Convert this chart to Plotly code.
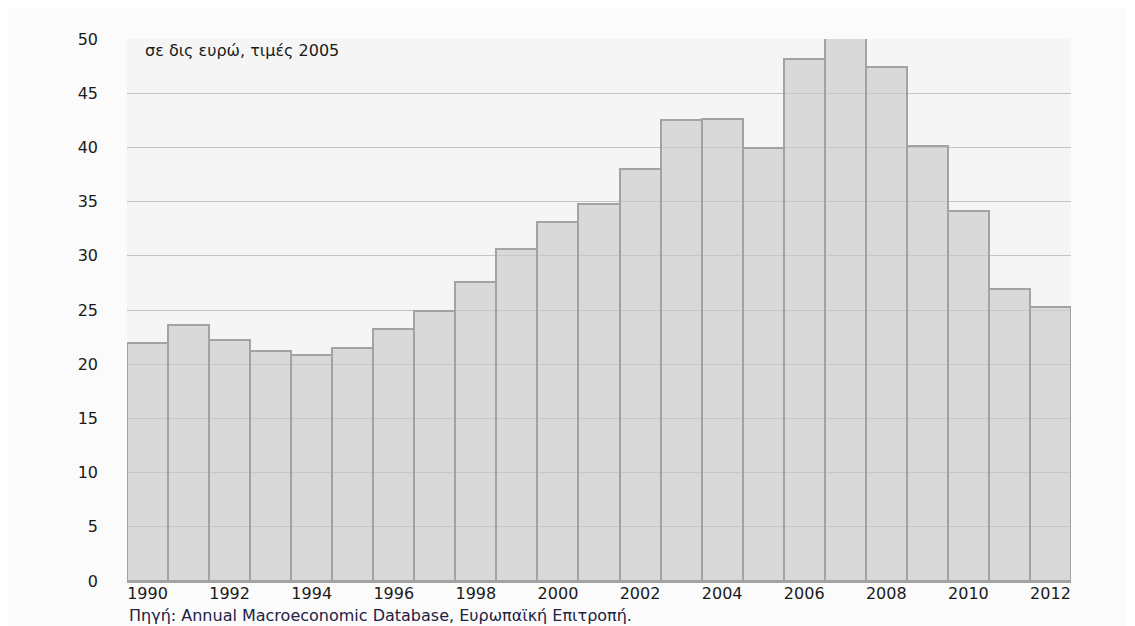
import plotly.graph_objects as go

years = list(range(1990, 2013))
values = [22.0, 23.6, 22.2, 21.2, 20.85, 21.5, 23.25, 24.9, 27.6, 30.6, 33.1, 34.8,
          38.0, 42.5, 42.6, 39.9, 48.2, 50.5, 47.4, 40.1, 34.1, 26.9, 25.3]
y_ticks = list(range(0, 51, 5))
x_ticks = list(range(1990, 2013, 2))
unit_note = "σε δις ευρώ, τιμές 2005"
source_note = "Πηγή: Annual Macroeconomic Database, Ευρωπαϊκή Επιτροπή."

fig = go.Figure()
fig.add_trace(go.Bar(
    x=years, y=values, width=1.0,
    marker=dict(color="rgba(200,200,200,0.62)", line=dict(color="#a3a3a3", width=2)),
    hoverinfo="x+y",
))

font = "DejaVu Sans, Liberation Sans, Arial, sans-serif"
fig.update_layout(
    width=1127, height=618,
    margin=dict(l=119, r=64, t=31, b=45),
    paper_bgcolor="#fbfbfb", plot_bgcolor="#f5f5f5",
    showlegend=False,
    font=dict(family=font, size=16, color="#1a1a1a"),
    bargap=0,
    xaxis=dict(range=[1989.5, 2012.5], tickvals=x_ticks, ticktext=[str(t) for t in x_ticks],
               showgrid=False, showline=True, linecolor="#a3a3a3", linewidth=2,
               ticks="", tickfont=dict(size=16), zeroline=False, ticklabelstandoff=-3),
    yaxis=dict(range=[0, 50], tickvals=y_ticks, showgrid=True, gridcolor="#c4c4c4",
               gridwidth=1, zeroline=False, ticks="", tickfont=dict(size=16),
               ticklabelstandoff=28),
    annotations=[
        dict(text=unit_note, xref="paper", yref="paper", x=0.017, y=1.0,
             xanchor="left", yanchor="top", showarrow=False, font=dict(size=16)),
        dict(text=source_note, xref="paper", yref="paper", x=0.0, y=-0.043,
             xanchor="left", yanchor="top", showarrow=False,
             font=dict(size=16, color="#222244")),
    ],
)

fig.write_html("out.html")
